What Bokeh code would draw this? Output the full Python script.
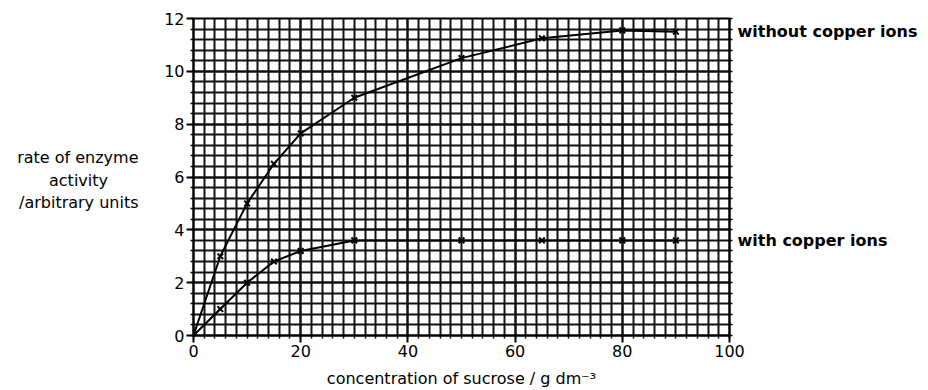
from bokeh.plotting import figure
from bokeh.models import FixedTicker, LinearAxis, Range1d, ColumnDataSource
from bokeh.embed import file_html
from bokeh.resources import INLINE

# ---- data ----
sucrose = [0, 5, 10, 15, 20, 30, 50, 65, 80, 90]
without_copper = [0, 3.0, 5.0, 6.5, 7.65, 9.0, 10.5, 11.25, 11.55, 11.5]
with_copper = [0, 1.0, 2.0, 2.8, 3.2, 3.6, 3.6, 3.6, 3.6, 3.6]

x_major_ticks = [0, 20, 40, 60, 80, 100]
y_major_ticks = [0, 2, 4, 6, 8, 10, 12]
x_minor_ticks = list(range(0, 101, 2))
y_minor_ticks = [round(i * 0.4, 2) for i in range(31)]

series_labels = ["without copper ions", "with copper ions"]
NB = "\u00a0"
y_label_lines = ["rate of enzyme", "activity" + NB * 6, "/arbitrary units"]
y_label_pos = [6.72, 5.85, 5.02]
x_label = "concentration of sucrose / g dm\u207b\u00b3"

FONT = "DejaVu Sans"

p = figure(width=928, height=390,
           x_range=Range1d(0, 100), y_range=Range1d(0, 12),
           output_backend="svg", toolbar_location=None,
           min_border_left=193, min_border_right=199,
           min_border_top=18, min_border_bottom=54)
p.background_fill_color = "white"
p.border_fill_color = "white"
p.outline_line_color = "black"
p.outline_line_width = 2

# ticks
p.xaxis.ticker = FixedTicker(ticks=x_major_ticks, minor_ticks=x_minor_ticks)
p.yaxis.ticker = FixedTicker(ticks=y_major_ticks, minor_ticks=y_minor_ticks)

for ax in (p.xaxis[0], p.yaxis[0]):
    ax.axis_line_color = "black"
    ax.axis_line_width = 2
    ax.major_tick_line_color = "black"
    ax.major_tick_line_width = 2
    ax.major_tick_in = 0
    ax.major_tick_out = 7
    ax.minor_tick_line_color = "black"
    ax.minor_tick_line_width = 1.5
    ax.minor_tick_in = 0
    ax.minor_tick_out = 3
    ax.major_label_text_font = FONT
    ax.major_label_text_font_size = "16px"
    ax.major_label_text_color = "black"
    ax.major_label_standoff = 2
    ax.axis_label_text_font = FONT
    ax.axis_label_text_font_size = "16px"
    ax.axis_label_text_font_style = "normal"
    ax.axis_label_text_color = "black"

p.xaxis.axis_label = x_label
p.xaxis.axis_label_standoff = 9

# y-axis title: three horizontal lines, placed by a label-only outer axis
ytitle = LinearAxis(ticker=FixedTicker(ticks=y_label_pos, minor_ticks=[]),
                    major_label_overrides=dict(zip(y_label_pos, y_label_lines)),
                    axis_line_color=None, major_tick_line_color=None,
                    minor_tick_line_color=None, major_tick_out=0, major_tick_in=0,
                    major_label_standoff=23,
                    major_label_text_font=FONT, major_label_text_font_size="16px",
                    major_label_text_color="black")
p.add_layout(ytitle, "left")

# right axis: tick stubs at grid lines and the series names
right = LinearAxis(ticker=FixedTicker(ticks=[without_copper[-1], with_copper[-1]],
                                      minor_ticks=y_minor_ticks),
                   major_label_overrides={without_copper[-1]: series_labels[0],
                                          with_copper[-1]: series_labels[1]},
                   axis_line_width=2, axis_line_color="black",
                   major_tick_line_color=None,
                   minor_tick_in=0, minor_tick_out=3,
                   minor_tick_line_width=1.5, minor_tick_line_color="black",
                   major_label_standoff=2,
                   major_label_text_font=FONT, major_label_text_font_size="16px",
                   major_label_text_font_style="bold", major_label_text_color="black")
p.add_layout(right, "right")

# grids
for g in (p.xgrid[0], p.ygrid[0]):
    g.grid_line_color = "#111111"
    g.grid_line_width = 2
    g.minor_grid_line_color = "#111111"
    g.minor_grid_line_width = 2

# data lines and markers
src = ColumnDataSource(dict(x=sucrose, a=without_copper, b=with_copper))
p.line("x", "a", source=src, line_color="black", line_width=2)
p.line("x", "b", source=src, line_color="black", line_width=2)
p.scatter("x", "a", source=src, marker="x", size=8, line_color="black", line_width=2)
p.scatter("x", "b", source=src, marker="x", size=8, line_color="black", line_width=2)

open("out.html", "w").write(file_html(p, INLINE))
